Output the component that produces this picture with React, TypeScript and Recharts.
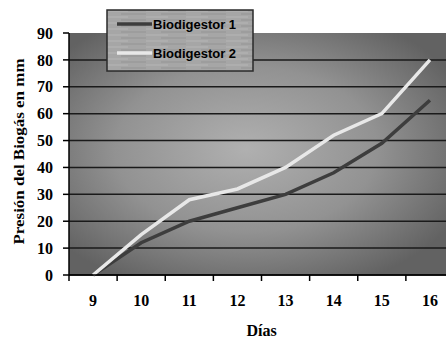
import React from 'react';
import { LineChart, Line, XAxis, YAxis, CartesianGrid, Label } from 'recharts';

const days = ['9', '10', '11', '12', '13', '14', '15', '16'];
const biodigestor1 = [0, 12, 20, 25, 30, 38, 49, 65];
const biodigestor2 = [0, 15, 28, 32, 40, 52, 60, 80];
const yTicks = [0, 10, 20, 30, 40, 50, 60, 70, 80, 90];
const seriesNames = ['Biodigestor 1', 'Biodigestor 2'];
const seriesColors = ['#3d3d3d', '#e8e8e8'];

const data = days.map((d, i) => ({ day: d, b1: biodigestor1[i], b2: biodigestor2[i] }));

const serif = '"Liberation Serif", "Times New Roman", serif';
const sans = '"Liberation Sans", Arial, sans-serif';

const XTick = (props: any) => {
  const { x, y, payload, width } = props;
  const half = width / (days.length * 2);
  return (
    <g>
      <line x1={x - half} x2={x - half} y1={y - 8} y2={y - 2} stroke="#000" strokeWidth={1.5} />
      <text x={x} y={y + 23} textAnchor="middle" style={{ fontFamily: serif }} fontWeight="bold" fontSize={16} fill="#000">
        {payload.value}
      </text>
    </g>
  );
};

const LegendBox = () => (
  <svg width={148} height={63} style={{ display: 'block' }}>
    <defs>
      <pattern id="tex" width="40" height="6" patternUnits="userSpaceOnUse">
        <rect width="40" height="6" fill="#a6a6a6" />
        <line x1="0" y1="2" x2="22" y2="2" stroke="#b6b6b6" strokeWidth="1" />
        <line x1="15" y1="5" x2="40" y2="5" stroke="#959595" strokeWidth="1" />
      </pattern>
    </defs>
    <rect x={1} y={1} width={146} height={61} fill="url(#tex)" stroke="#2a2a2a" strokeWidth={1.5} />
    {seriesNames.map((name, i) => (
      <g key={i}>
        <line x1={11} x2={46} y1={15 + i * 29} y2={15 + i * 29} stroke={seriesColors[i]} strokeWidth={3.5} />
        <text x={47} y={19.5 + i * 29} style={{ fontFamily: sans }} fontWeight="bold" fontSize={13} fill="#000">
          {name}
        </text>
      </g>
    ))}
  </svg>
);

export default function App() {
  return (
    <div style={{ position: 'absolute', left: 0, top: 0, width: 446, height: 339, overflow: 'hidden', background: '#fff' }}>
      <LineChart width={454} height={339} data={data} margin={{ top: 33, right: 0, bottom: 0, left: 0 }}>
        <defs>
          <radialGradient id="bg" cx="0.46" cy="0.48" r="0.62">
            <stop offset="0%" stopColor="#b0b0b0" />
            <stop offset="55%" stopColor="#929292" />
            <stop offset="100%" stopColor="#626262" />
          </radialGradient>
        </defs>
        <CartesianGrid
          vertical={false}
          fill="url(#bg)"
          fillOpacity={1}
          stroke="#1a1a1a"
          strokeWidth={1.5}
          horizontalValues={yTicks.slice(0, -1)}
        />
        <XAxis
          dataKey="day"
          scale="band"
          height={64}
          axisLine={{ stroke: '#000', strokeWidth: 1.5 }}
          tickLine={false}
          tick={<XTick />}
          interval={0}
        >
          <Label
            content={(p: any) => {
              const vb = p.viewBox;
              return (
                <text x={vb.x + vb.width / 2} y={336} textAnchor="middle" style={{ fontFamily: serif }} fontWeight="bold" fontSize={16} fill="#000">
                  Días
                </text>
              );
            }}
          />
        </XAxis>
        <YAxis
          width={69}
          domain={[0, 90]}
          ticks={yTicks}
          interval={0}
          axisLine={{ stroke: '#000', strokeWidth: 1.5 }}
          tickLine={{ stroke: '#000', strokeWidth: 1.5 }}
          tickSize={6}
          tickMargin={10}
          tick={{ style: { fontFamily: serif }, fontWeight: 'bold', fontSize: 16, fill: '#000' }}
        >
          <Label
            content={() => {
              const cy = 151.5;
              return (
                <text
                  x={19}
                  y={cy}
                  transform={`rotate(-90, 19, ${cy})`}
                  textAnchor="middle"
                  dominantBaseline="central"
                  style={{ fontFamily: serif }}
                  fontWeight="bold"
                  fontSize={15}
                  textLength={186}
                  lengthAdjust="spacingAndGlyphs"
                  fill="#000"
                >
                  Presión del Biogás en mm
                </text>
              );
            }}
          />
        </YAxis>
        <Line type="linear" dataKey="b1" name={seriesNames[0]} stroke={seriesColors[0]} strokeWidth={3.5} dot={false} isAnimationActive={false} />
        <Line type="linear" dataKey="b2" name={seriesNames[1]} stroke={seriesColors[1]} strokeWidth={3.5} dot={false} isAnimationActive={false} />
      </LineChart>
      <div style={{ position: 'absolute', top: 9, left: 106 }}>
        <LegendBox />
      </div>
    </div>
  );
}
